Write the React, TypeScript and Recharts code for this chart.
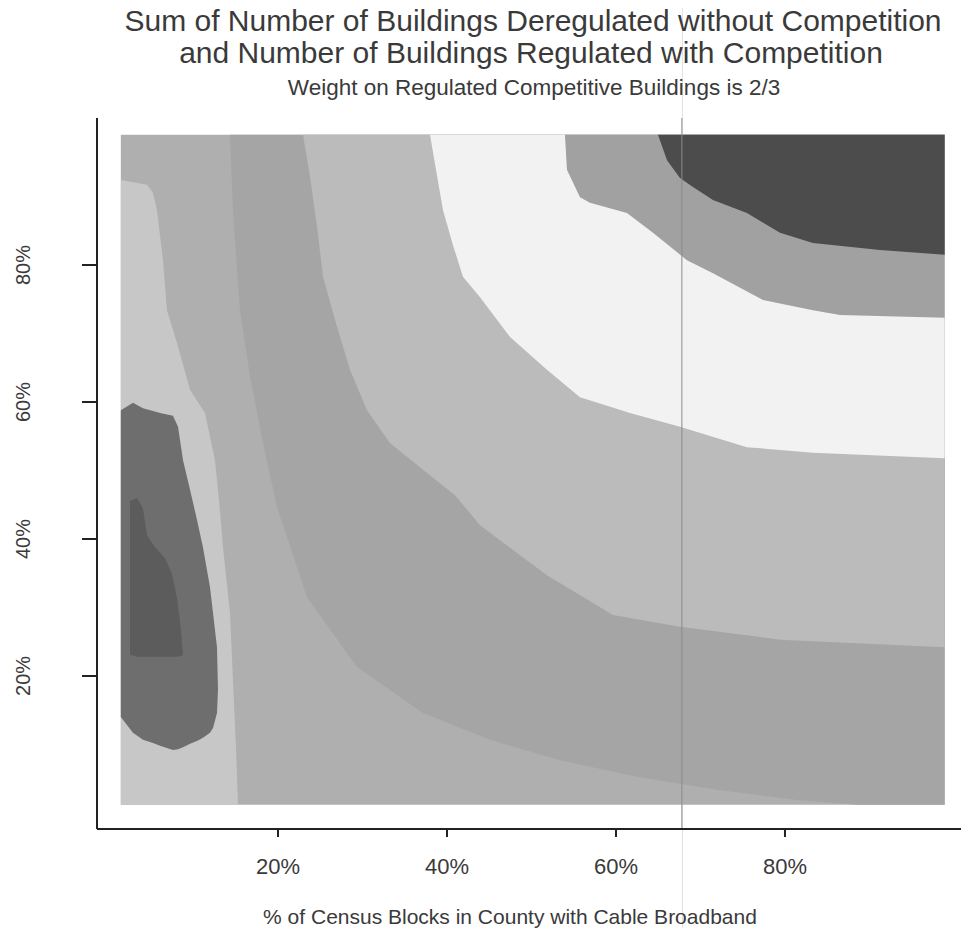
import { ComposedChart, Area, XAxis, YAxis, ReferenceLine } from 'recharts'

const FONT = '"Liberation Sans", Arial, Helvetica, sans-serif'

// edges of the contour grid, in % units
const GRID_X = [1.4, 98.9]
const GRID_Y = [1.2, 99]

const X_TICKS = [20, 40, 60, 80]
const Y_TICKS = [20, 40, 60, 80]

// band outlines (x %, y %); each band fills from its outline up to the grid top
const E_X = [14.32, 14.67, 15.5, 16.69, 18.22, 19.88, 23.43, 29.35, 37.16, 45.09, 53.37, 62.49, 71.95, 81.42, 88.52, 98.9]
const E_Y = [99, 88.0, 73.4, 63.7, 54.0, 44.7, 31.5, 21.3, 14.6, 10.7, 7.7, 5.3, 3.4, 1.9, 1.2, 1.2]

const D_X = [22.96, 23.79, 24.62, 25.33, 26.98, 28.52, 30.53, 33.25, 37.16, 40.95, 43.91, 51.83, 59.64, 67.57, 79.41, 98.9]
const D_Y = [99, 92.9, 85.6, 78.3, 71.0, 64.7, 58.8, 54.0, 50.1, 46.4, 42.0, 34.7, 28.9, 27.2, 25.3, 24.2]

const C_X = [37.99, 38.7, 39.53, 40.71, 41.89, 43.91, 47.46, 51.83, 55.74, 61.66, 67.57, 75.5, 83.31, 98.9]
const C_Y = [99, 93.9, 88.0, 82.9, 78.3, 75.3, 69.5, 64.7, 60.7, 58.4, 56.4, 53.4, 52.6, 51.8]

const B_X = [53.96, 54.2, 55.74, 56.92, 61.3, 64.38, 68.4, 71.48, 77.4, 83.31, 86.51, 98.9]
const B_Y = [99, 93.9, 89.9, 89.1, 87.6, 84.7, 80.7, 78.8, 74.9, 73.4, 72.7, 72.3]

const A_X = [64.97, 66.04, 67.57, 69.11, 71.48, 75.5, 79.41, 83.31, 91.24, 98.9]
const A_Y = [99, 95.3, 92.7, 91.4, 89.5, 87.6, 84.7, 83.2, 82.2, 81.5]

// light strip on the left edge, fills from grid bottom up to its outline
const G_X = [1.4, 4.5, 5.21, 5.68, 6.39, 6.86, 8.05, 9.59, 11.36, 12.54, 13.02, 13.49, 14.32, 14.67, 15.03, 15.27]
const G_Y = [92.4, 91.7, 90.5, 88.0, 80.7, 73.4, 68.6, 61.8, 58.4, 51.5, 45.7, 38.8, 29.2, 19.4, 9.6, 1.2]

// dark blob on the left and its darker core
const H_X = [1.4, 2.84, 4.02, 5.21, 6.04, 7.57, 8.17, 8.76, 9.59, 10.41, 11.12, 11.95, 12.31, 12.78, 12.9]
const H_TOP = [58.8, 59.9, 59.1, 58.7, 58.4, 58.0, 56.4, 51.5, 47.2, 42.8, 38.8, 33.0, 29.2, 24.2, 18.0]
const H_BOTTOM = [14.0, 11.7, 10.7, 10.2, 9.8, 9.2, 9.3, 9.6, 10.1, 10.5, 11.0, 11.7, 12.4, 14.6, 18.0]

const CORE_X = [2.49, 3.31, 4.02, 4.5, 5.44, 6.63, 7.46, 8.05, 8.52, 8.76]
const CORE_TOP = [45.5, 46.0, 44.5, 40.5, 38.8, 37.2, 34.9, 31.4, 26.7, 23.1]
const CORE_BOTTOM = [23.1, 22.8, 22.8, 22.8, 22.8, 22.8, 22.8, 22.8, 22.9, 23.1]

// faint vertical scan line that runs through the page
const SCAN_LINE_X = 67.8

const COLORS = {
  base: '#afafaf',
  e: '#a5a5a5',
  d: '#bbbbbb',
  c: '#f2f2f2',
  b: '#a1a1a1',
  a: '#4c4c4c',
  g: '#c7c7c7',
  h: '#6e6e6e',
  core: '#5c5c5c',
}

const toTop = (xs: number[], ys: number[]) => xs.map((x, i) => ({ x, r: [ys[i], GRID_Y[1]] }))
const toBottom = (xs: number[], ys: number[]) => xs.map((x, i) => ({ x, r: [GRID_Y[0], ys[i]] }))
const between = (xs: number[], lo: number[], hi: number[]) => xs.map((x, i) => ({ x, r: [lo[i], hi[i]] }))

const layers = [
  { key: 'base', data: toTop(GRID_X, [GRID_Y[0], GRID_Y[0]]), fill: COLORS.base },
  { key: 'e', data: toTop(E_X, E_Y), fill: COLORS.e },
  { key: 'd', data: toTop(D_X, D_Y), fill: COLORS.d },
  { key: 'c', data: toTop(C_X, C_Y), fill: COLORS.c },
  { key: 'b', data: toTop(B_X, B_Y), fill: COLORS.b },
  { key: 'a', data: toTop(A_X, A_Y), fill: COLORS.a },
  { key: 'g', data: toBottom(G_X, G_Y), fill: COLORS.g },
  { key: 'h', data: between(H_X, H_BOTTOM, H_TOP), fill: COLORS.h },
  { key: 'core', data: between(CORE_X, CORE_BOTTOM, CORE_TOP), fill: COLORS.core },
]

function YTick(props: any) {
  const { x, y, payload } = props
  return (
    <text
      x={x}
      y={y}
      transform={`rotate(-90 ${x} ${y})`}
      textAnchor="middle"
      dominantBaseline="central"
      fontSize={20}
      fill="#3a3a3a"
      fontFamily={FONT}
    >
      {payload.value}%
    </text>
  )
}

const textStyle = (cx: number, cy: number, size: number): React.CSSProperties => ({
  position: 'absolute',
  left: cx,
  top: cy - size / 2,
  transform: 'translateX(-50%)',
  whiteSpace: 'nowrap',
  fontSize: size,
  lineHeight: `${size}px`,
  color: '#3a3a3a',
  fontFamily: FONT,
})

export default function App() {
  return (
    <div style={{ position: 'relative', width: 961, height: 920 }}>
      <div style={{ position: 'absolute', left: 674, top: -8, width: 1, height: 938, background: '#e2e2e2' }} />
      <ComposedChart
        width={961}
        height={920}
        margin={{ top: 110, right: 0, bottom: 0, left: 0 }}
        style={{ position: 'absolute', left: 0, top: 0 }}
      >
        <XAxis
          type="number"
          dataKey="x"
          domain={[-1.42, 101.78]}
          allowDataOverflow
          ticks={X_TICKS}
          tickFormatter={(v: number) => `${v}%`}
          height={99}
          tickSize={8}
          tickMargin={21}
          axisLine={{ stroke: '#222', strokeWidth: 2 }}
          tickLine={{ stroke: '#222', strokeWidth: 2 }}
          tick={{ fontSize: 22, fill: '#3a3a3a', fontFamily: FONT }}
        />
        <YAxis
          type="number"
          domain={[-2.34, 101.46]}
          allowDataOverflow
          ticks={Y_TICKS}
          width={89}
          tickSize={15}
          tickMargin={59}
          axisLine={{ stroke: '#222', strokeWidth: 2 }}
          tickLine={{ stroke: '#222', strokeWidth: 2 }}
          tick={<YTick />}
        />
        {layers.map((l) => (
          <Area
            key={l.key}
            data={l.data}
            dataKey="r"
            type="linear"
            stroke="none"
            fill={l.fill}
            fillOpacity={1}
            dot={false}
            activeDot={false}
            isAnimationActive={false}
          />
        ))}
        <ReferenceLine x={SCAN_LINE_X} stroke="#8a8a8a" strokeWidth={1} />
      </ComposedChart>
      <div style={textStyle(525, 13, 30)}>Sum of Number of Buildings Deregulated without Competition</div>
      <div style={textStyle(523, 45, 30)}>and Number of Buildings Regulated with Competition</div>
      <div style={textStyle(526, 80, 22.5)}>Weight on Regulated Competitive Buildings is 2/3</div>
      <div style={textStyle(502, 908, 21)}>% of Census Blocks in County with Cable Broadband</div>
    </div>
  )
}
